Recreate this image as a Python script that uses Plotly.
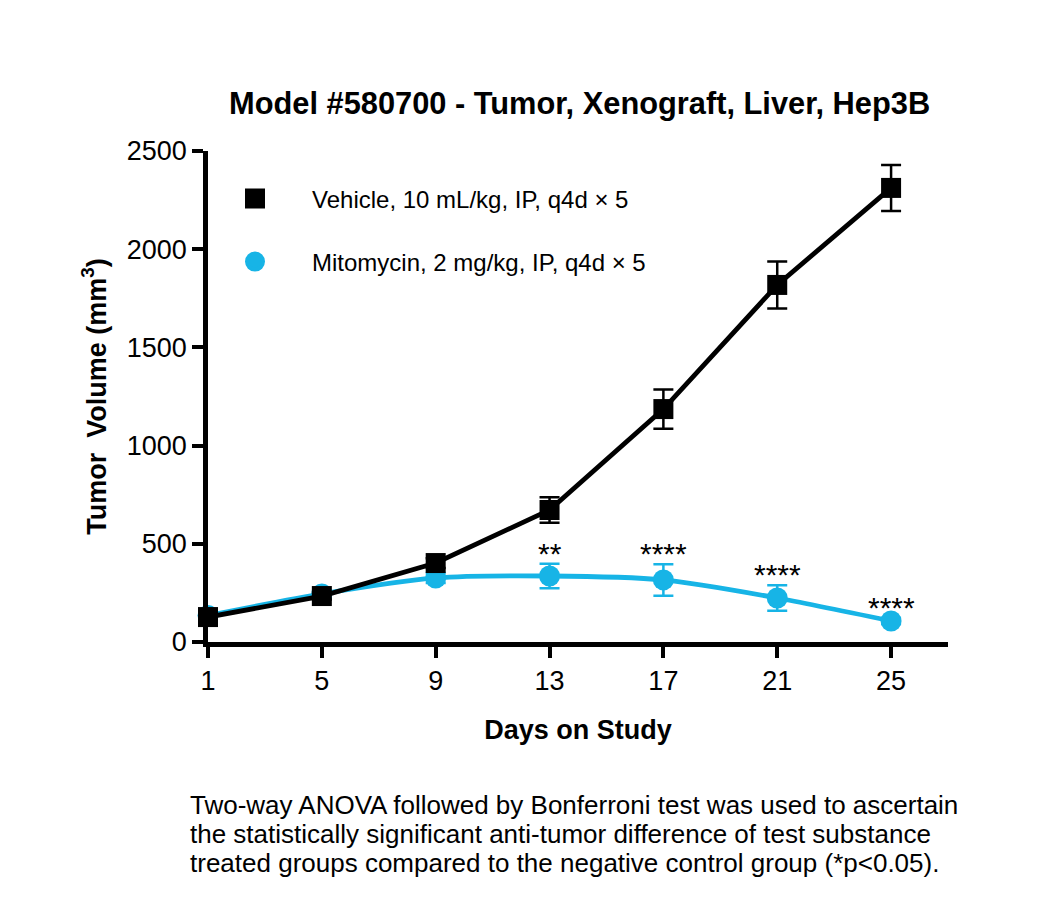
import plotly.graph_objects as go

days = [1, 5, 9, 13, 17, 21, 25]
vehicle = [127, 234, 402, 672, 1186, 1818, 2312]
vehicle_err = [15, 18, 25, 65, 100, 120, 117]
mito = [135, 245, 326, 336, 316, 224, 107]
mito_err = [10, 15, 25, 62, 80, 65, 15]
sig = ["", "", "", "**", "****", "****", "****"]

vehicle_name = "Vehicle, 10 mL/kg, IP, q4d \u00d7 5"
mito_name = "Mitomycin, 2 mg/kg, IP, q4d \u00d7 5"
footnote_lines = [
    "Two-way ANOVA followed by Bonferroni test was used to ascertain",
    "the statistically significant anti-tumor difference of test substance",
    "treated groups compared to the negative control group (*p&lt;0.05).",
]

BLACK = "#000000"
CYAN = "#17B4E6"
FONT = "Liberation Sans, Arial, sans-serif"

fig = go.Figure()

fig.add_trace(go.Scatter(
    x=days, y=mito, mode="lines+markers", name=mito_name, showlegend=False,
    line=dict(color=CYAN, width=4.8, shape="spline", smoothing=0.7),
    marker=dict(symbol="circle", size=21, color=CYAN, line=dict(width=0)),
    error_y=dict(type="data", array=mito_err, color=CYAN, thickness=2.5, width=10),
    cliponaxis=False,
))
fig.add_trace(go.Scatter(
    x=days, y=vehicle, mode="lines+markers", name=vehicle_name, showlegend=False,
    line=dict(color=BLACK, width=4.8),
    marker=dict(symbol="square", size=20, color=BLACK, line=dict(width=0)),
    error_y=dict(type="data", array=vehicle_err, color=BLACK, thickness=2.5, width=10),
    cliponaxis=False,
))

# legend entries (marker only)
fig.add_trace(go.Scatter(
    x=[None], y=[None], mode="markers", name=vehicle_name, legend="legend",
    marker=dict(symbol="square", size=16, color=BLACK, line=dict(width=4, color=BLACK)),
))
fig.add_trace(go.Scatter(
    x=[None], y=[None], mode="markers", name=mito_name, legend="legend2",
    marker=dict(symbol="circle", size=16, color=CYAN, line=dict(width=4, color=CYAN)),
))

annotations = []
for d, v, e, s in zip(days, mito, mito_err, sig):
    if s:
        annotations.append(dict(
            x=d, y=v + e, xref="x", yref="y", text=s, showarrow=False,
            yanchor="bottom", yshift=-8, font=dict(size=30, color=BLACK, family=FONT),
        ))

W, H = 1050, 917
# screenshot pixel box of the plotting area (page has an 8px body margin)
PL, PT, PR, PB = 208, 151, 948, 642
OFF = 8
L, T = PL - OFF, PT - OFF
R, B = W - (PR - OFF), H - (PB - OFF)
pw, ph = PR - PL, PB - PT


def px(xp):
    return (xp - PL) / pw


def py(yp):
    return (PB - yp) / ph


annotations.append(dict(
    x=px(579), y=py(103), xref="paper", yref="paper", showarrow=False,
    text="<b>Model #580700 - Tumor, Xenograft, Liver, Hep3B</b>",
    xanchor="center", yanchor="middle", font=dict(size=30.8, color=BLACK, family=FONT)))
for i, line in enumerate(footnote_lines):
    annotations.append(dict(
        x=px(188), y=py(805 + 29 * i), xref="paper", yref="paper", showarrow=False,
        text=line, xanchor="left", yanchor="middle", align="left",
        font=dict(size=26, color=BLACK, family=FONT)))

fig.update_layout(
    width=W, height=H, autosize=False,
    margin=dict(l=L, r=R, t=T, b=B, pad=0),
    paper_bgcolor="white", plot_bgcolor="white",
    font=dict(family=FONT, color=BLACK),
    annotations=annotations,
    legend=dict(x=px(198), y=py(199), xanchor="left", yanchor="middle",
                itemwidth=104, font=dict(size=24, color=BLACK, family=FONT),
                bgcolor="rgba(0,0,0,0)", borderwidth=0),
    legend2=dict(x=px(198), y=py(262), xanchor="left", yanchor="middle",
                 itemwidth=104, font=dict(size=24, color=BLACK, family=FONT),
                 bgcolor="rgba(0,0,0,0)", borderwidth=0),
)

fig.update_xaxes(
    range=[1, 27], tickvals=days, ticktext=[str(d) for d in days],
    showline=True, linecolor=BLACK, linewidth=4.5, mirror=False,
    ticks="outside", ticklen=11, tickwidth=4, tickcolor=BLACK,
    showgrid=False, zeroline=False,
    tickfont=dict(size=27, color=BLACK, family=FONT),
    title=dict(text="<b>Days on Study</b>", font=dict(size=27, color=BLACK, family=FONT), standoff=26),
)
fig.update_yaxes(
    range=[0, 2500], tickvals=[0, 500, 1000, 1500, 2000, 2500],
    showline=True, linecolor=BLACK, linewidth=4.5,
    ticks="outside", ticklen=11, tickwidth=4, tickcolor=BLACK,
    showgrid=False, zeroline=False,
    tickfont=dict(size=27, color=BLACK, family=FONT),
    title=dict(text="<b>Tumor  Volume (mm<sup>3</sup>)</b>", font=dict(size=27, color=BLACK, family=FONT), standoff=14),
)

fig.write_html("out.html")
